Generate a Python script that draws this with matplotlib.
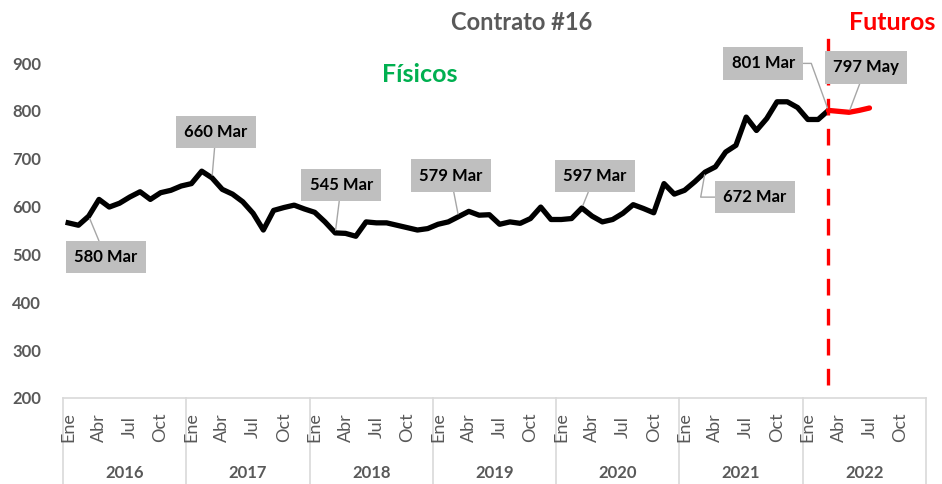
import matplotlib.pyplot as plt
import matplotlib.transforms as mtransforms

plt.rcParams['font.family'] = ['Lato', 'DejaVu Sans']

# Data (monthly, from Jan 2016)
years = ['2016', '2017', '2018', '2019', '2020', '2021', '2022']
month_labels = ['Ene', '', '', 'Abr', '', '', 'Jul', '', '', 'Oct', '', '']
fisicos = [566, 561, 580, 615, 599, 607, 620, 631, 615, 629, 634, 643,
           648, 674, 660, 636, 626, 610, 586, 551, 592, 598, 603, 595,
           588, 568, 545, 544, 538, 568, 566, 566, 561, 556, 551, 554,
           563, 568, 579, 590, 582, 583, 563, 568, 565, 575, 599, 573,
           573, 575, 597, 580, 568, 573, 586, 604, 596, 587, 648, 626,
           634, 652, 672, 683, 714, 728, 787, 759, 784, 819, 819, 807,
           782, 782, 801]
futuros = [801, 799, 797, 801, 806]   # Mar-Jul 2022
fut_start = len(fisicos) - 1

# labelled points: (index, text, offset in pixels, connection style)
labels = [
    (2, '580 Mar', (17, -41), 'arc3'),
    (14, '660 Mar', (4, 46), 'arc3'),
    (26, '545 Mar', (6, 48), 'arc3'),
    (38, '579 Mar', (-8, 41), 'arc3'),
    (50, '597 Mar', (13, 32), 'arc3'),
    (62, '672 Mar', (50, -25), 'angle,angleA=0,angleB=80,rad=0'),
    (74, '801 Mar', (-65, 47), 'angle,angleA=0,angleB=110,rad=0'),
]

n = len(years) * 12
fig = plt.figure(figsize=(9.42, 4.84), dpi=100)
ax = fig.add_axes([0.0669, 0.1777, 0.9161, 0.6921])

x_f = list(range(len(fisicos)))
x_fut = list(range(fut_start, fut_start + len(futuros)))
ax.plot(x_f, fisicos, color='black', lw=3.8, solid_joinstyle='round', zorder=3)
ax.plot(x_fut, futuros, color='#FF0000', lw=3.8, solid_capstyle='round', zorder=3)

ax.set_xlim(-0.5, n - 0.5)
ax.set_ylim(200, 900)
ax.set_yticks(range(200, 901, 100))
ax.tick_params(axis='y', length=0, pad=16, labelsize=12, labelcolor='#595959')
for t in ax.get_yticklabels():
    t.set_fontweight('bold')
ax.set_xticks([])
for s in ['top', 'right', 'left']:
    ax.spines[s].set_visible(False)
ax.spines['bottom'].set_color('#D9D9D9')
ax.spines['bottom'].set_linewidth(1.2)

# multi-level category axis
trans = mtransforms.blended_transform_factory(ax.transData, ax.transAxes)
for k in range(len(years) + 1):
    ax.plot([k * 12 - 0.5] * 2, [0, -0.26], transform=trans, color='#D9D9D9',
            lw=1.2, clip_on=False)
for k, yr in enumerate(years):
    for m, lab in enumerate(month_labels):
        if lab:
            ax.text(k * 12 + m, -0.087, lab, transform=trans, rotation=90,
                    ha='center', va='center', fontsize=13, color='#595959')
    ax.text(k * 12 + 5.5, -0.225, yr, transform=trans, ha='center', va='center',
            fontsize=12, fontweight='bold', color='#595959')

# dashed separator physicals / futures
ax.plot([fut_start, fut_start], [0.039, 1.075], transform=trans, color='#FF0000',
        lw=2.4, ls=(0, (5, 4)), clip_on=False, zorder=4)

box = dict(boxstyle='square,pad=0.5', fc='#BFBFBF', ec='none')
for i, txt, off, cs in labels:
    ax.annotate(txt, (i, fisicos[i]), xytext=off, textcoords='offset pixels',
                ha='center', va='center', fontsize=12, fontweight='bold',
                bbox=box, zorder=5,
                arrowprops=dict(arrowstyle='-', color='#A6A6A6', lw=1,
                                shrinkA=0, shrinkB=2, connectionstyle=cs))
ax.annotate('797 May', (fut_start + 2, futuros[2]), xytext=(17, 45),
            textcoords='offset pixels', ha='center', va='center', fontsize=12,
            fontweight='bold', bbox=box, zorder=5,
            arrowprops=dict(arrowstyle='-', color='#A6A6A6', lw=1, shrinkA=0, shrinkB=2))

fig.text(522 / 942, 1 - 22 / 484, 'Contrato #16', ha='center', va='center',
         fontsize=17, fontweight='bold', color='#595959')
fig.text(420 / 942, 1 - 75 / 484, 'Físicos', ha='center', va='center',
         fontsize=18, fontweight='bold', color='#00B050')
fig.text(892 / 942, 1 - 22 / 484, 'Futuros', ha='center', va='center',
         fontsize=18, fontweight='bold', color='#FF0000')

fig.savefig('out.png', dpi=100)
